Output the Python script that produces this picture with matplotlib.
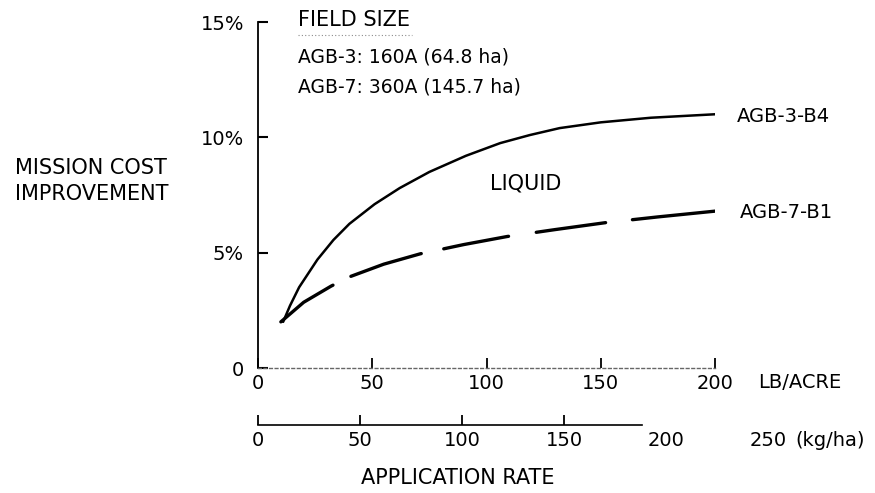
import numpy as np
import matplotlib
matplotlib.use("Agg")
import matplotlib.pyplot as plt
from matplotlib.lines import Line2D

# values (lb/acre vs % improvement)
rate_b4 = [11, 14, 18, 26, 33, 40, 51, 62, 75, 91, 106, 119, 132, 150, 172, 200]
cost_b4 = [2.0, 2.7, 3.5, 4.7, 5.55, 6.25, 7.1, 7.8, 8.5, 9.2, 9.75, 10.1,
           10.4, 10.65, 10.85, 11.0]

rate_b1 = [10, 20, 32, 40, 55, 71, 90, 109, 130, 152, 175, 200]
cost_b1 = [2.0, 2.85, 3.55, 3.95, 4.5, 4.95, 5.35, 5.7, 6.0, 6.3, 6.55, 6.8]

lb_ticks = [0, 50, 100, 150, 200]
kg_ticks = [0, 50, 100, 150, 200, 250]
pct_ticks = [0, 5, 10, 15]
pct_labels = ["0", "5%", "10%", "15%"]

W, H = 875, 493
plt.rcParams["font.family"] = ["DejaVu Sans"]
plt.rcParams["font.size"] = 14


def fx(px):
    return px / W


def fy(py):
    return 1 - py / H


fig = plt.figure(figsize=(W / 100, H / 100), dpi=100)

# main axes: lb/acre 0-200, 0-15 %
ax = fig.add_axes([fx(258), fy(368), fx(715) - fx(258), fy(22) - fy(368)])
ax.set_xlim(0, 200)
ax.set_ylim(0, 15)

ax.plot(rate_b4, cost_b4, color="black", lw=1.8, solid_capstyle="round",
        solid_joinstyle="round")

# hand-drawn dash lengths (pixels along the line), converted to points
lw_d = 2.4
dash_px = [64, 20, 74, 23, 66, 28, 70, 27, 90, 40]
dash_seq = [d * 0.72 / lw_d for d in dash_px]
ax.plot(rate_b1, cost_b1, color="black", lw=lw_d, dashes=dash_seq,
        dash_capstyle="round")

for s in ["top", "right"]:
    ax.spines[s].set_visible(False)
ax.spines["left"].set_linewidth(1.3)
ax.spines["bottom"].set_linewidth(1.0)
ax.spines["bottom"].set_color("0.4")
ax.spines["bottom"].set_linestyle((0, (2, 2)))

ax.set_xticks(lb_ticks)
ax.set_yticks(pct_ticks)
ax.set_yticklabels(pct_labels)
ax.tick_params(axis="x", direction="in", length=7, width=1.3, pad=4,
               labelsize=14)
ax.tick_params(axis="y", direction="in", length=7, width=1.5, pad=10,
               labelsize=14)

# second scale in kg/ha underneath
ax2 = fig.add_axes([fx(258), fy(425), fx(768) - fx(258), 0.001])
ax2.set_xlim(0, 250)
ax2.set_ylim(0, 1)
for s in ["top", "right", "left"]:
    ax2.spines[s].set_visible(False)
ax2.spines["bottom"].set_bounds(0, 188)
ax2.spines["bottom"].set_linewidth(1.2)
ax2.set_yticks([])
ax2.set_xticks(kg_ticks)
ax2.tick_params(axis="x", direction="in", length=7, width=1.3, pad=4,
                labelsize=14)
for t in ax2.xaxis.get_major_ticks()[4:]:
    t.tick1line.set_visible(False)

# labels and notes
fig.text(fx(15), fy(168), "MISSION COST", fontsize=15, va="center", ha="left")
fig.text(fx(15), fy(194), "IMPROVEMENT", fontsize=15, va="center", ha="left")

fig.text(fx(298), fy(20), "FIELD SIZE", fontsize=15, va="center", ha="left")
fig.add_artist(Line2D([fx(298), fx(412)], [fy(35), fy(35)], color="0.55",
                      lw=0.8, ls=(0, (1, 2))))
fig.text(fx(298), fy(57), "AGB-3: 160A (64.8 ha)", fontsize=13.5,
         va="center", ha="left")
fig.text(fx(298), fy(87), "AGB-7: 360A (145.7 ha)", fontsize=13.5,
         va="center", ha="left")

fig.text(fx(490), fy(183), "LIQUID", fontsize=15, va="center", ha="left")
fig.text(fx(737), fy(116), "AGB-3-B4", fontsize=14, va="center", ha="left")
fig.text(fx(740), fy(212), "AGB-7-B1", fontsize=14, va="center", ha="left")

fig.text(fx(758), fy(382), "LB/ACRE", fontsize=14, va="center", ha="left")
fig.text(fx(795), fy(440), "(kg/ha)", fontsize=14, va="center", ha="left")
fig.text(fx(458), fy(478), "APPLICATION RATE", fontsize=15, va="center",
         ha="center")

fig.savefig("out.png", dpi=100, facecolor="white")
